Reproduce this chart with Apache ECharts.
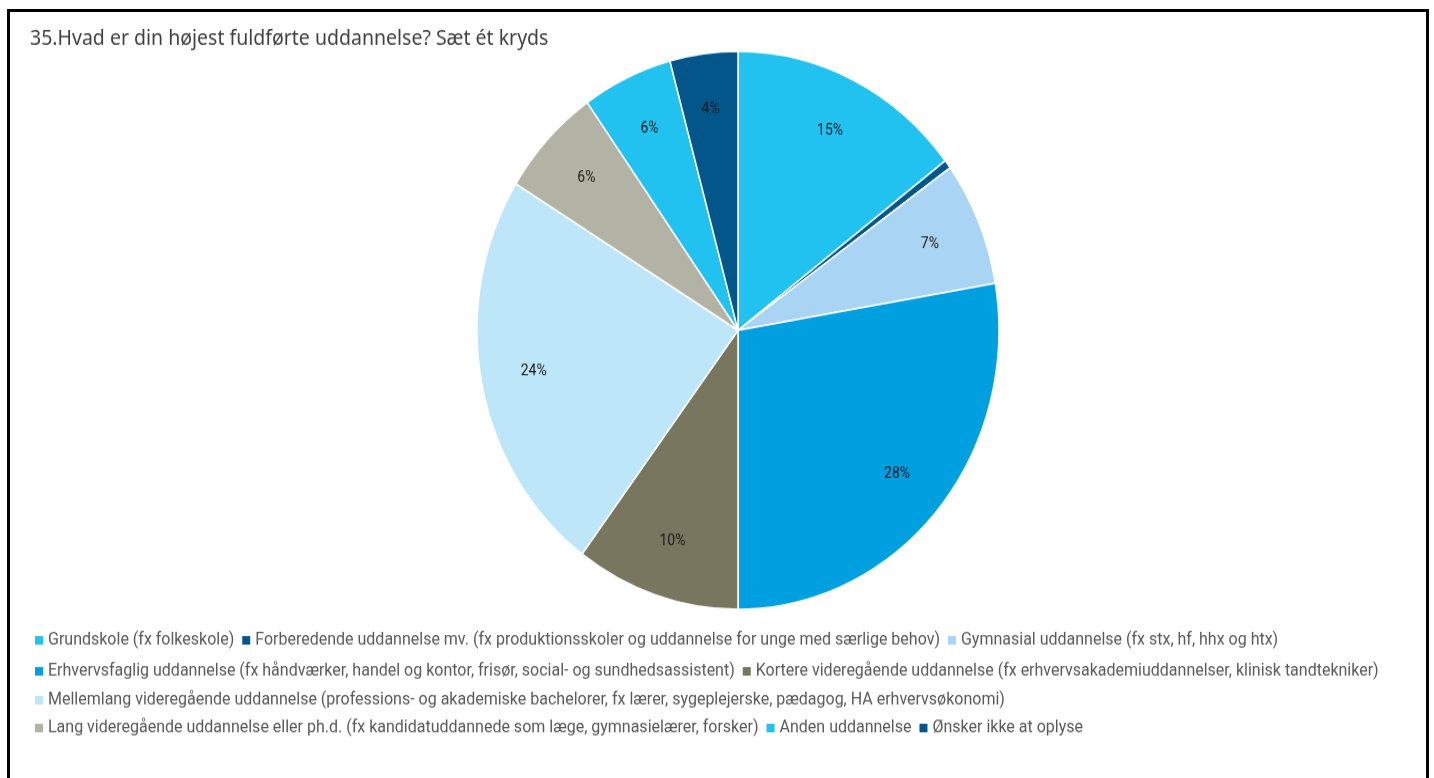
<!DOCTYPE html>
<html>
<head>
<meta charset="utf-8">
<script src="https://cdn.jsdelivr.net/npm/echarts@6/dist/echarts.min.js"></script>
<style>
  html, body { margin: 0; padding: 0; background: #fff; overflow: hidden; }
  #frame { position: absolute; left: 7px; top: 9px; width: 1416px; height: 800px; border: 3px solid #000; z-index: 2; pointer-events: none; }
  #chart { position: absolute; left: 0; top: 0; width: 1434px; height: 728px; transform: scaleY(1.069); transform-origin: 0 0; z-index: 1; }
</style>
</head>
<body>
<div id="frame"></div>
<div id="chart"></div>
<script>
var categories = [
  'Grundskole (fx folkeskole)',
  'Forberedende uddannelse mv. (fx produktionsskoler og uddannelse for unge med særlige behov)',
  'Gymnasial uddannelse (fx stx, hf, hhx og htx)',
  'Erhvervsfaglig uddannelse (fx håndværker, handel og kontor, frisør, social- og sundhedsassistent)',
  'Kortere videregående uddannelse (fx erhvervsakademiuddannelser, klinisk tandtekniker)',
  'Mellemlang videregående uddannelse (professions- og akademiske bachelorer, fx lærer, sygeplejerske, pædagog, HA erhvervsøkonomi)',
  'Lang videregående uddannelse eller ph.d. (fx kandidatuddannede som læge, gymnasielærer, forsker)',
  'Anden uddannelse',
  'Ønsker ikke at oplyse'
]
var shares = [14.6, 0.5, 7.2, 27.7, 10.2, 23.6, 6.4, 5.6, 4.2]
var colors = ['#21c1f0', '#02568a', '#a9d4f3', '#009fe0', '#797660', '#bde6f9', '#b3b3a5', '#21c1f0', '#02568a']
var legendRows = [[0, 1, 2], [3, 4], [5], [6, 7, 8]]

var chart = echarts.init(document.getElementById('chart'))

var pieData = categories.map(function(name, i) {
  return { name: name, value: shares[i], itemStyle: { color: colors[i] } }
})
var labelData = categories.map(function(name, i) {
  return { name: name, value: shares[i] }
})

// row centres in unscaled px
var rowCenters = [599, 628, 655, 681]
var legends = legendRows.map(function(row, r) {
  return {
    left: 33,
    top: rowCenters[r] - 8,
    orient: 'horizontal',
    itemWidth: 10,
    itemHeight: 10,
    itemGap: 6,
    icon: 'rect',
    padding: 0,
    selectedMode: false,
    textStyle: {
      color: '#595959',
      fontSize: 16,
      fontFamily: 'Roboto',
      padding: [0, 0, 0, -1]
    },
    data: row.map(function(i) { return categories[i] })
  }
})

chart.setOption({
  backgroundColor: 'rgba(0,0,0,0)',
  animation: false,
  title: {
    text: '35.Hvad er din højest fuldførte uddannelse? Sæt ét kryds',
    left: 30,
    top: 26,
    padding: 0,
    textStyle: {
      color: '#404040',
      fontSize: 19.5,
      fontWeight: 'normal',
      fontFamily: 'Noto Sans'
    }
  },
  legend: legends,
  series: [{
    name: 'pie',
    type: 'pie',
    center: [738, 309],
    radius: [0, 261],
    startAngle: 90,
    clockwise: true,
    silent: true,
    label: { show: false },
    labelLine: { show: false },
    itemStyle: {
      borderColor: '#fff',
      borderWidth: 1.5
    },
    data: pieData
  }, {
    name: 'labels',
    type: 'pie',
    center: [738, 309],
    radius: [149, 261],
    startAngle: 90,
    clockwise: true,
    silent: true,
    avoidLabelOverlap: false,
    itemStyle: { color: 'rgba(0,0,0,0)' },
    label: {
      show: true,
      position: 'inside',
      color: '#1a1a1a',
      fontSize: 14,
      fontFamily: 'Roboto',
      formatter: function(p) {
        return p.percent < 1 ? '' : Math.round(p.percent) + '%'
      }
    },
    labelLine: { show: false },
    data: labelData
  }]
})
</script>
</body>
</html>
